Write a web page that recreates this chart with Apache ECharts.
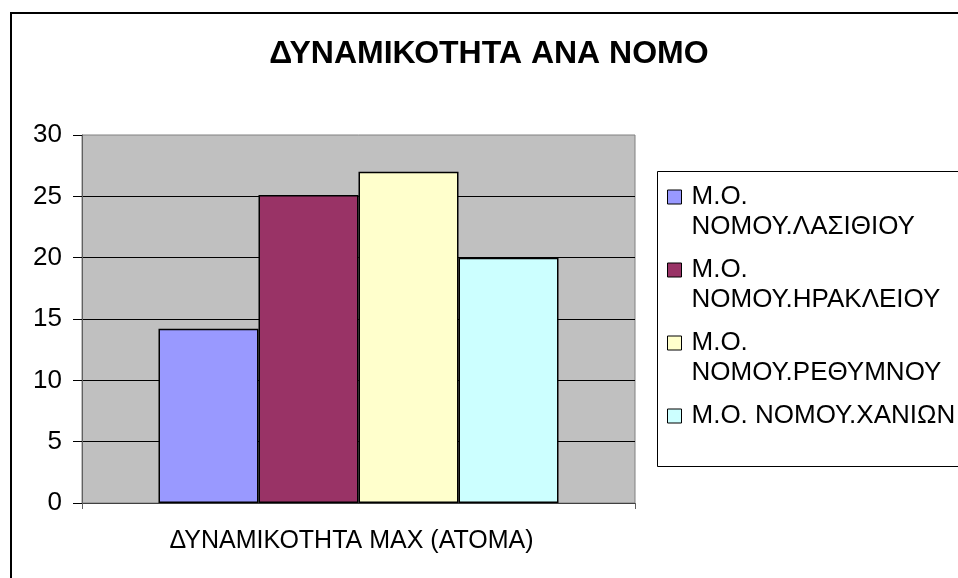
<!DOCTYPE html>
<html>
<head>
<meta charset="utf-8">
<script src="https://cdn.jsdelivr.net/npm/echarts@6/dist/echarts.min.js"></script>
<style>
  html, body { margin: 0; padding: 0; background: #fff; }
  #chart { width: 958px; height: 578px; }
</style>
</head>
<body>
<div id="chart"></div>
<script>
// δεδομένα
var categories = ['ΔΥΝΑΜΙΚΟΤΗΤΑ MAX (ΑΤΟΜΑ)'];
var seriesNames = ['Μ.Ο. ΝΟΜΟΥ.ΛΑΣΙΘΙΟΥ', 'Μ.Ο. ΝΟΜΟΥ.ΗΡΑΚΛΕΙΟΥ', 'Μ.Ο. ΝΟΜΟΥ.ΡΕΘΥΜΝΟΥ', 'Μ.Ο. ΝΟΜΟΥ.ΧΑΝΙΩΝ'];
var seriesValues = [14.2, 25.1, 27.0, 20.0];
var yTicks = [0, 5, 10, 15, 20, 25, 30];

var barColors = ['#9999ff', '#993366', '#ffffcc', '#ccffff'];
var font = "'Liberation Sans', Arial, sans-serif";

var myChart = echarts.init(document.getElementById('chart'));

var series = seriesNames.map(function (name, i) {
  return {
    name: name,
    type: 'bar',
    data: [seriesValues[i]],
    barWidth: 100,
    barGap: '0%',
    itemStyle: { color: barColors[i], borderColor: '#000', borderWidth: 1.5 },
    emphasis: { disabled: true }
  };
});

var option = {
  animation: false,
  backgroundColor: '#fff',
  title: {
    text: 'ΔΥΝΑΜΙΚΟΤΗΤΑ ΑΝΑ ΝΟΜΟ',
    left: 489,
    top: 54,
    padding: 0,
    textAlign: 'center',
    textVerticalAlign: 'middle',
    textStyle: { fontFamily: font, fontSize: 32, fontWeight: 'bold', color: '#000' }
  },
  grid: {
    left: 82, top: 135, width: 553, height: 368,
    show: true,
    backgroundColor: '#c0c0c0',
    borderColor: '#808080',
    borderWidth: 1
  },
  legend: {
    orient: 'vertical',
    left: 667,
    top: 152,
    padding: 0,
    itemGap: -17,
    itemWidth: 14,
    itemHeight: 14,
    icon: 'rect',
    itemStyle: { borderColor: '#000', borderWidth: 1 },
    data: seriesNames,
    // το πρώτο κενό ευθυγραμμίζει την πρώτη γραμμή με το τετράγωνο
    formatter: function (name) {
      if (name.length > 18) return '\n' + name.replace(' ', '\n');
      return '\n' + name + '\n';
    },
    textStyle: { fontFamily: font, fontSize: 26, lineHeight: 30, color: '#000', padding: [0, 0, 0, 5] }
  },
  xAxis: {
    type: 'category',
    data: categories,
    boundaryGap: true,
    axisLine: { show: true, lineStyle: { color: '#404040', width: 1 } },
    axisTick: { show: true, length: 6, lineStyle: { color: '#606060' } },
    axisLabel: { margin: 26, fontFamily: font, fontSize: 25, color: '#000', padding: [0, 14, 0, 0] },
    splitLine: { show: false }
  },
  yAxis: {
    type: 'value',
    min: yTicks[0],
    max: yTicks[yTicks.length - 1],
    interval: yTicks[1] - yTicks[0],
    axisLine: { show: true, lineStyle: { color: '#606060', width: 1 } },
    axisTick: { show: true, length: 9, lineStyle: { color: '#000' } },
    axisLabel: { margin: 20, fontFamily: font, fontSize: 26, color: '#000' },
    splitLine: { show: true, showMaxLine: false, lineStyle: { color: '#000', width: 1 } }
  },
  graphic: [
    {
      type: 'rect',
      shape: { x: 11, y: 13, width: 1000, height: 1000 },
      style: { fill: 'none', stroke: '#000', lineWidth: 2 },
      silent: true
    },
    {
      type: 'rect',
      shape: { x: 657.5, y: 171.5, width: 400, height: 295 },
      style: { fill: 'none', stroke: '#000', lineWidth: 1 },
      silent: true,
      z: -1
    }
  ],
  series: series
};

myChart.setOption(option);
window.addEventListener('resize', function () {
  myChart.resize();
});
</script>
</body>
</html>
